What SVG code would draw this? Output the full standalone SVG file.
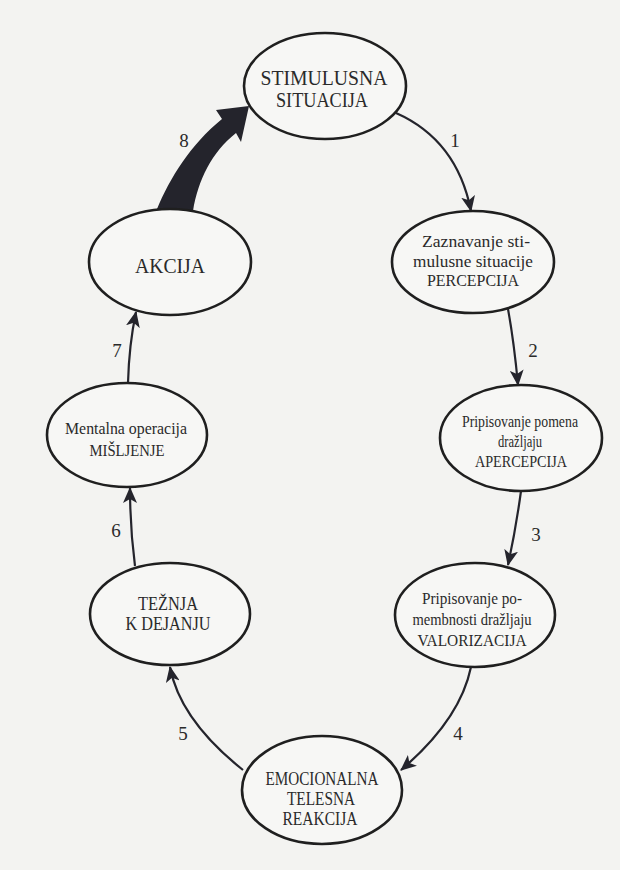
<svg xmlns="http://www.w3.org/2000/svg" width="620" height="870" viewBox="0 0 620 870">
<defs>
<marker id="ah" markerUnits="userSpaceOnUse" markerWidth="16" markerHeight="14" refX="15" refY="7" orient="auto" viewBox="0 0 16 14">
<path d="M0,0 L16,7 L0,14 L4,7 Z" fill="#24242c"/>
</marker>
<style>
.bg{fill:#f3f3f1}
.node ellipse{fill:#f7f7f5;stroke:#1f1f1f;stroke-width:2.6}
.node text{font-family:"Liberation Serif","Times New Roman",serif;fill:#2a2a2a;text-anchor:middle}
.line{fill:none;stroke:#24242c;stroke-width:2.2;marker-end:url(#ah)}
.thick{fill:#24242c}
.lbl{font-family:"Liberation Serif","Times New Roman",serif;font-size:19px;fill:#2a2a2a;text-anchor:middle}
</style>
</defs>
<rect class="bg" x="0" y="0" width="620" height="870"/>

<g id="connectors">
<path class="line" d="M396,113 Q457,140 471,211"/>
<path class="line" d="M508,309 Q514,342 518,385"/>
<path class="line" d="M521,491 Q516,528 508,565"/>
<path class="line" d="M471,667 Q460,720 401,770"/>
<path class="line" d="M243,770 Q180,720 170,667"/>
<path class="line" d="M135,566 Q130,528 130,488"/>
<path class="line" d="M128,383 Q129,345 136,312"/>
<path class="thick" d="M157,209 C170,178 190,145 222,119 L216,110 L249,106 L241,142 L236,133 C212,152 198,180 193,211 Z"/>
<text class="lbl" x="455" y="147">1</text>
<text class="lbl" x="533" y="357">2</text>
<text class="lbl" x="536" y="541">3</text>
<text class="lbl" x="458" y="740">4</text>
<text class="lbl" x="183" y="740">5</text>
<text class="lbl" x="116" y="537">6</text>
<text class="lbl" x="117" y="357">7</text>
<text class="lbl" x="184" y="147">8</text>
</g>

<g id="n-stimulus" class="node">
<ellipse cx="325" cy="86" rx="81" ry="53"/>
<text x="324" y="85" font-size="21" textLength="127" lengthAdjust="spacingAndGlyphs">STIMULUSNA</text>
<text x="322" y="107" font-size="21" textLength="92" lengthAdjust="spacingAndGlyphs">SITUACIJA</text>
</g>

<g id="n-percepcija" class="node">
<ellipse cx="473" cy="262" rx="81" ry="51"/>
<text x="476" y="247" font-size="17" textLength="108" lengthAdjust="spacingAndGlyphs">Zaznavanje sti-</text>
<text x="473" y="267" font-size="17" textLength="120" lengthAdjust="spacingAndGlyphs">mulusne situacije</text>
<text x="473" y="286" font-size="17" textLength="92" lengthAdjust="spacingAndGlyphs">PERCEPCIJA</text>
</g>

<g id="n-apercepcija" class="node">
<ellipse cx="521" cy="438" rx="81" ry="53"/>
<text x="520" y="427" font-size="16" textLength="116" lengthAdjust="spacingAndGlyphs">Pripisovanje pomena</text>
<text x="520" y="447" font-size="16" textLength="44" lengthAdjust="spacingAndGlyphs">dražljaju</text>
<text x="521" y="467" font-size="16" textLength="92" lengthAdjust="spacingAndGlyphs">APERCEPCIJA</text>
</g>

<g id="n-valorizacija" class="node">
<ellipse cx="475" cy="615" rx="80" ry="52"/>
<text x="472" y="604" font-size="17" textLength="100" lengthAdjust="spacingAndGlyphs">Pripisovanje po-</text>
<text x="472" y="625" font-size="17" textLength="119" lengthAdjust="spacingAndGlyphs">membnosti dražljaju</text>
<text x="472" y="646" font-size="17" textLength="109" lengthAdjust="spacingAndGlyphs">VALORIZACIJA</text>
</g>

<g id="n-emocionalna" class="node">
<ellipse cx="322" cy="790" rx="80" ry="54"/>
<text x="322" y="785" font-size="19" textLength="113" lengthAdjust="spacingAndGlyphs">EMOCIONALNA</text>
<text x="321" y="805" font-size="19" textLength="68" lengthAdjust="spacingAndGlyphs">TELESNA</text>
<text x="320" y="825" font-size="19" textLength="75" lengthAdjust="spacingAndGlyphs">REAKCIJA</text>
</g>

<g id="n-teznja" class="node">
<ellipse cx="170" cy="614" rx="80" ry="51"/>
<text x="168" y="610" font-size="19" textLength="60" lengthAdjust="spacingAndGlyphs">TEŽNJA</text>
<text x="168" y="630" font-size="19" textLength="85" lengthAdjust="spacingAndGlyphs">K DEJANJU</text>
</g>

<g id="n-misljenje" class="node">
<ellipse cx="127" cy="435" rx="80" ry="52"/>
<text x="126" y="434" font-size="17" textLength="122" lengthAdjust="spacingAndGlyphs">Mentalna operacija</text>
<text x="127" y="456" font-size="17" textLength="75" lengthAdjust="spacingAndGlyphs">MIŠLJENJE</text>
</g>

<g id="n-akcija" class="node">
<ellipse cx="170" cy="262" rx="81" ry="53"/>
<text x="170" y="273" font-size="22" textLength="70" lengthAdjust="spacingAndGlyphs">AKCIJA</text>
</g>
</svg>
